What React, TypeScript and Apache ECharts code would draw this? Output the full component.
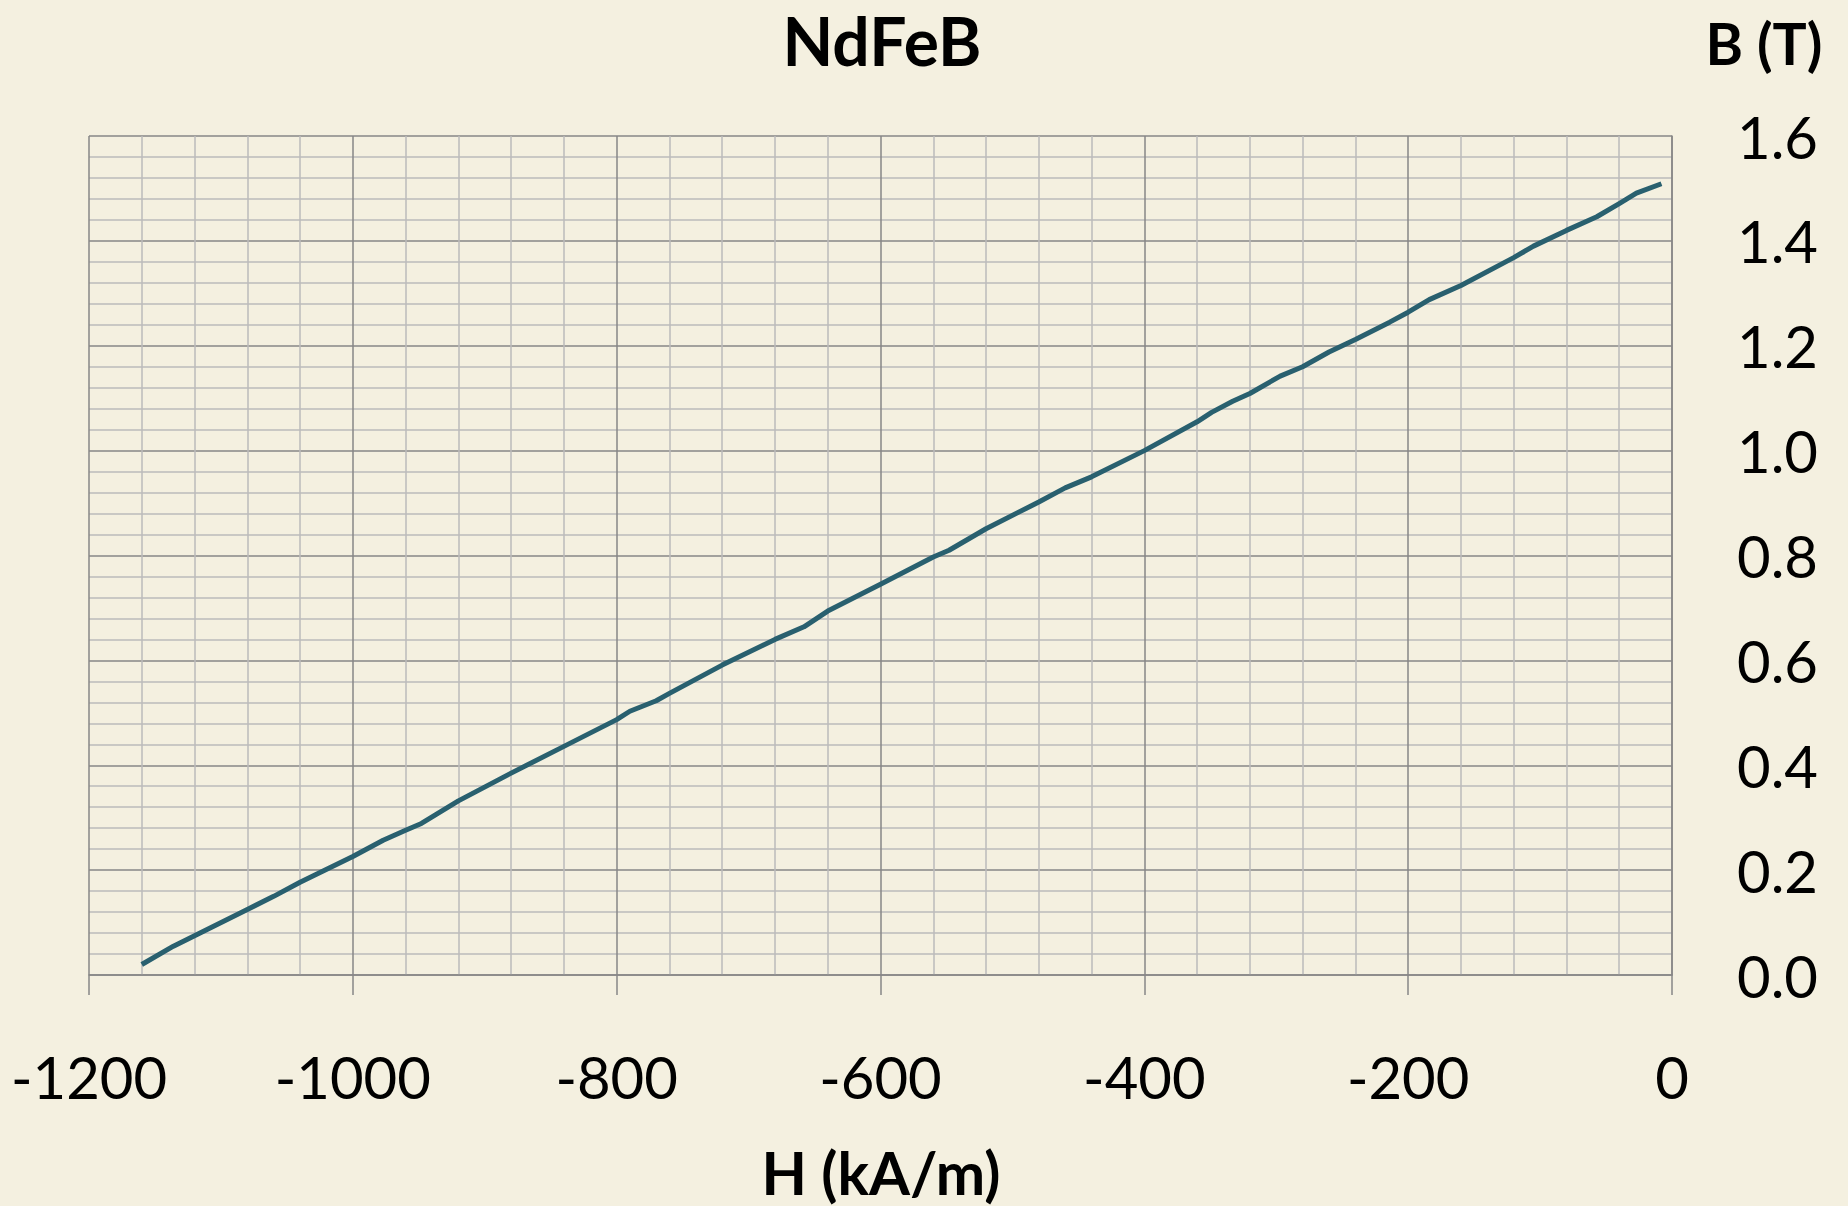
import React, { useEffect, useRef } from "react";
import * as echarts from "echarts";

const hValues = [
  -1160, -1136, -1120, -1080, -1060, -1040, -1000, -977, -960, -948, -920, -880,
  -840, -800, -790, -770, -760, -720, -680, -658, -640, -600, -560, -548, -520,
  -480, -460, -440, -400, -360, -349, -333, -320, -297, -280, -260, -240, -214,
  -200, -184, -160, -120, -105, -80, -57, -40, -27, -8,
];
const bValues = [
  0.02, 0.055, 0.075, 0.125, 0.15, 0.177, 0.226, 0.257, 0.276, 0.289, 0.332, 0.385,
  0.436, 0.487, 0.503, 0.523, 0.537, 0.591, 0.64, 0.664, 0.694, 0.745, 0.797, 0.81, 0.851,
  0.902, 0.929, 0.95, 1.0, 1.055, 1.073, 1.094, 1.109, 1.142, 1.16, 1.188, 1.212, 1.245,
  1.264, 1.288, 1.315, 1.368, 1.39, 1.42, 1.446, 1.471, 1.491, 1.509,
];
const titleText = "NdFeB";
const xTitle = "H (kA/m)";
const yTitle = "B (T)";

const FONT = "Lato, 'Open Sans', sans-serif";
const MAJOR = "#878787";
const MINOR = "#BBBBBB";

export default function App() {
  const ref = useRef<HTMLDivElement>(null);
  useEffect(() => {
    if (!ref.current) return;
    const chart = echarts.init(ref.current, null, { renderer: "svg" });
    const data = hValues.map((h, i) => [h, bValues[i]]);
    chart.setOption({
      animation: false,
      backgroundColor: "#F4F0E0",
      grid: { left: 89, top: 136, right: 176, bottom: 231, containLabel: false },
      graphic: [
        {
          type: "text",
          x: 882,
          y: 40,
          style: { text: titleText, font: `bold 66px ${FONT}`, fill: "#000", align: "center", verticalAlign: "middle" },
        },
        {
          type: "text",
          x: 1764,
          y: 43,
          style: { text: yTitle, font: `bold 57px ${FONT}`, fill: "#000", align: "center", verticalAlign: "middle" },
        },
        {
          type: "text",
          x: 881,
          y: 1172,
          style: { text: xTitle, font: `bold 59px ${FONT}`, fill: "#000", align: "center", verticalAlign: "middle" },
        },
      ],
      xAxis: {
        type: "value",
        min: -1200,
        max: 0,
        interval: 200,
        position: "bottom",
        axisLine: { show: true, onZero: false, lineStyle: { color: MAJOR, width: 1.5 } },
        axisTick: { show: true, inside: false, length: 20, lineStyle: { color: MAJOR, width: 1.5 } },
        axisLabel: {
          color: "#000",
          fontSize: 58,
          fontFamily: FONT,
          margin: 72,
          formatter: (v: number) => String(v),
        },
        splitLine: { show: true, lineStyle: { color: MAJOR, width: 1.5 } },
        minorTick: { show: false, splitNumber: 5 },
        minorSplitLine: { show: true, lineStyle: { color: MINOR, width: 1.5 } },
      },
      yAxis: {
        type: "value",
        min: 0,
        max: 1.6,
        interval: 0.2,
        position: "right",
        axisLine: { show: true, lineStyle: { color: MAJOR, width: 1.5 } },
        axisTick: { show: false },
        axisLabel: {
          color: "#000",
          fontSize: 58,
          fontFamily: FONT,
          margin: 65,
          formatter: (v: number) => v.toFixed(1),
        },
        splitLine: { show: true, lineStyle: { color: MAJOR, width: 1.5 } },
        minorTick: { show: false, splitNumber: 5 },
        minorSplitLine: { show: true, lineStyle: { color: MINOR, width: 1.5 } },
      },
      series: [
        {
          type: "line",
          data,
          showSymbol: false,
          symbol: "none",
          lineStyle: { color: "#29606F", width: 5, join: "round", cap: "butt" },
          z: 5,
        },
      ],
    });
    return () => chart.dispose();
  }, []);
  return (
    <div
      ref={ref}
      style={{ position: "fixed", left: 0, top: 0, width: 1848, height: 1206 }}
    />
  );
}
